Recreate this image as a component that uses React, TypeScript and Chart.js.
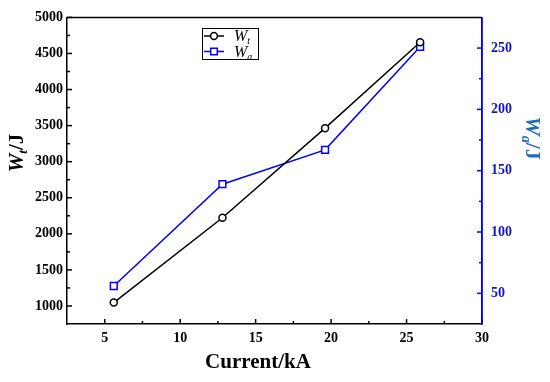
import React, { useEffect, useRef } from 'react';
import { Chart, registerables } from 'chart.js';

Chart.register(...registerables);

// ---- data ----
const currents = [5.6, 12.8, 19.6, 25.9];
const wtValues = [1047, 2223, 3465, 4655];
const waValues = [56, 139, 167, 251];

const xTicks = [5, 10, 15, 20, 25, 30];
const xMinorTicks = [7.5, 12.5, 17.5, 22.5, 27.5];
const leftTicks = [1000, 1500, 2000, 2500, 3000, 3500, 4000, 4500, 5000];
const leftMinorTicks = [1250, 1750, 2250, 2750, 3250, 3750, 4250, 4750];
const rightTicks = [50, 100, 150, 200, 250];
const rightMinorTicks = [75, 125, 175, 225];

const legendMain = ['W', 'W'];
const legendSub = ['t', 'a'];
const xTitle = 'Current/kA';

const FONT = "'Liberation Serif', 'Times New Roman', serif";
const BLUE = '#0000ff';
const BLUE_LABEL = '#1414c8';
const BLUE_TITLE = '#1f6cc0';

type Run = { text: string; font: string; dy: number };

function drawRuns(ctx: CanvasRenderingContext2D, runs: Run[], cx: number, cy: number, angle: number, color: string) {
  ctx.save();
  ctx.translate(cx, cy);
  ctx.rotate(angle);
  ctx.fillStyle = color;
  ctx.textAlign = 'left';
  ctx.textBaseline = 'alphabetic';
  let total = 0;
  const widths = runs.map((r) => {
    ctx.font = r.font;
    const w = ctx.measureText(r.text).width;
    total += w;
    return w;
  });
  let x = -total / 2;
  runs.forEach((r, i) => {
    ctx.font = r.font;
    ctx.fillText(r.text, x, r.dy);
    x += widths[i];
  });
  ctx.restore();
}

const decorPlugin = {
  id: 'decor',
  afterDraw(chart: any) {
    const { ctx, chartArea: a, scales } = chart;
    const sx = scales.x;
    const yl = scales.y;
    const yr = scales.y1;
    ctx.save();
    const seg = (x1: number, y1: number, x2: number, y2: number) => {
      ctx.beginPath();
      ctx.moveTo(x1, y1);
      ctx.lineTo(x2, y2);
      ctx.stroke();
    };
    ctx.lineWidth = 1.5;
    ctx.strokeStyle = '#000';
    seg(a.left, a.top, a.right, a.top);
    // x ticks (inward)
    xTicks.forEach((v) => { const p = sx.getPixelForValue(v); seg(p, a.bottom, p, a.bottom - 5); });
    xMinorTicks.forEach((v) => { const p = sx.getPixelForValue(v); seg(p, a.bottom, p, a.bottom - 3); });
    // left ticks
    leftTicks.forEach((v) => { const p = yl.getPixelForValue(v); seg(a.left, p, a.left + 5, p); });
    leftMinorTicks.forEach((v) => { const p = yl.getPixelForValue(v); seg(a.left, p, a.left + 3, p); });
    // right ticks
    ctx.strokeStyle = BLUE;
    rightTicks.forEach((v) => { const p = yr.getPixelForValue(v); seg(a.right, p, a.right - 5, p); });
    rightMinorTicks.forEach((v) => { const p = yr.getPixelForValue(v); seg(a.right, p, a.right - 3, p); });
    seg(a.right, a.top, a.right, a.bottom);

    // axis titles
    drawRuns(ctx, [
      { text: 'W', font: `italic bold 21px ${FONT}`, dy: 7 },
      { text: 't', font: `italic bold 13px ${FONT}`, dy: 11 },
      { text: '/J', font: `bold 21px ${FONT}`, dy: 7 },
    ], 16, 153, -Math.PI / 2, '#000');
    drawRuns(ctx, [
      { text: 'W', font: `italic bold 22px ${FONT}`, dy: 7 },
      { text: 'a', font: `italic bold 14px ${FONT}`, dy: 11 },
      { text: '/J', font: `bold 22px ${FONT}`, dy: 7 },
    ], 533, 138, Math.PI / 2, BLUE_TITLE);
    drawRuns(ctx, [{ text: xTitle, font: `bold 21px ${FONT}`, dy: 7 }], 258, 361, 0, '#000');

    // legend
    const bx = 202, by = 28, bw = 56, bh = 31;
    ctx.lineWidth = 1;
    ctx.strokeStyle = '#000';
    ctx.strokeRect(bx + 0.5, by + 0.5, bw, bh);
    const rows = [36, 51.5];
    chart.data.datasets.forEach((ds: any, i: number) => {
      const y = rows[i];
      ctx.strokeStyle = ds.borderColor;
      ctx.lineWidth = 1.5;
      seg(bx + 2, y, bx + 22, y);
      ctx.fillStyle = '#fff';
      ctx.beginPath();
      if (ds.pointStyle === 'rect') {
        ctx.rect(bx + 12 - 3.3, y - 3.3, 6.6, 6.6);
      } else {
        ctx.arc(bx + 12, y, 3.4, 0, Math.PI * 2);
      }
      ctx.fill();
      ctx.stroke();
      ctx.fillStyle = '#000';
      ctx.textAlign = 'left';
      ctx.textBaseline = 'alphabetic';
      ctx.font = `italic 16px ${FONT}`;
      const w = ctx.measureText(legendMain[i]).width;
      ctx.fillText(legendMain[i], bx + 32, y + 5);
      ctx.font = `italic 10px ${FONT}`;
      ctx.fillText(legendSub[i], bx + 32 + w, y + 8);
    });
    ctx.restore();
  },
};

export default function App() {
  const ref = useRef<HTMLCanvasElement | null>(null);
  useEffect(() => {
    if (!ref.current) return;
    const tickFont = { family: FONT, size: 14, weight: 'bold' as const };
    const plain = (v: any) => String(v);
    const chart = new Chart(ref.current, {
      type: 'line',
      data: {
        datasets: [
          {
            label: 'Wt',
            data: currents.map((c, i) => ({ x: c, y: wtValues[i] })),
            yAxisID: 'y',
            borderColor: '#000000',
            backgroundColor: '#ffffff',
            borderWidth: 1.5,
            pointRadius: 3.5,
            pointBorderWidth: 1.5,
            pointStyle: 'circle',
            tension: 0,
          },
          {
            label: 'Wa',
            data: currents.map((c, i) => ({ x: c, y: waValues[i] })),
            yAxisID: 'y1',
            borderColor: BLUE,
            backgroundColor: '#ffffff',
            borderWidth: 1.5,
            pointRadius: 4.8,
            pointBorderWidth: 1.5,
            pointStyle: 'rect',
            tension: 0,
          },
        ],
      },
      options: {
        animation: false,
        responsive: false,
        devicePixelRatio: 1,
        layout: { padding: { top: 15, left: 0, right: 0, bottom: 0 } },
        plugins: { legend: { display: false }, tooltip: { enabled: false } },
        scales: {
          x: {
            type: 'linear',
            position: 'bottom',
            min: 2.5,
            max: 30,
            grid: { display: false, drawTicks: false },
            border: { display: true, color: '#000', width: 1.5 },
            ticks: { font: tickFont, color: '#000', padding: 6, autoSkip: false, maxRotation: 0, callback: plain },
            afterBuildTicks: (s: any) => { s.ticks = xTicks.map((v) => ({ value: v })); },
            afterFit: (s: any) => { s.height = 58; },
          },
          y: {
            type: 'linear',
            position: 'left',
            min: 750,
            max: 5000,
            grid: { display: false, drawTicks: false },
            border: { display: true, color: '#000', width: 1.5 },
            ticks: { font: tickFont, color: '#000', padding: 4, autoSkip: false, callback: plain },
            afterBuildTicks: (s: any) => { s.ticks = leftTicks.map((v) => ({ value: v })); },
            afterFit: (s: any) => { s.width = 67; },
          },
          y1: {
            type: 'linear',
            position: 'right',
            min: 25,
            max: 275,
            grid: { display: false, drawTicks: false },
            border: { display: true, color: BLUE, width: 1.5 },
            ticks: { font: tickFont, color: BLUE_LABEL, padding: 9, autoSkip: false, callback: plain },
            afterBuildTicks: (s: any) => { s.ticks = rightTicks.map((v) => ({ value: v })); },
            afterFit: (s: any) => { s.width = 68; },
          },
        },
      },
      plugins: [decorPlugin],
    });
    return () => chart.destroy();
  }, []);
  return (
    <div style={{ position: 'fixed', left: 0, top: 0, width: 550, height: 382, background: '#fff' }}>
      <canvas ref={ref} width={550} height={382} />
    </div>
  );
}
